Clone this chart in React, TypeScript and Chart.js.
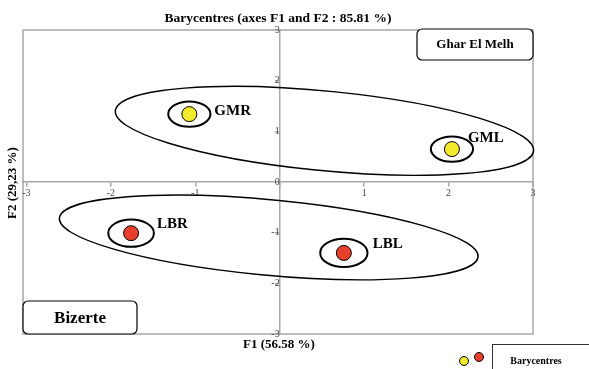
import React, { useEffect, useRef } from 'react';
import { Chart, registerables } from 'chart.js';
Chart.register(...registerables);

// ---- data ----
const categories = ['GMR', 'GML', 'LBR', 'LBL'];
const f1Values = [-1.07, 2.04, -1.76, 0.76];
const f2Values = [1.34, 0.65, -1.01, -1.4];
const pointColors = ['#f2ea2c', '#f2ea2c', '#e8402c', '#e8402c'];
const confRadius = [0.25, 0.25, 0.27, 0.28];
const labelDx = [25, 16, 26, 29];
const labelDy = [1, -7, -5, -5];

const regionNames = ['Ghar El Melh', 'Bizerte'];
const regionCenterF1 = [0.53, -0.13];
const regionCenterF2 = [1.01, -1.095];
const regionSemiMajor = [2.51, 2.51];
const regionSemiMinor = [0.78, 0.74];
const regionAngleDeg = [-9.7, -9.3];

const tickValues = [-3, -2, -1, 0, 1, 2, 3];
const titleText = 'Barycentres (axes F1 and F2 : 85.81 %)';
const xTitle = 'F1 (56.58 %)';
const yTitle = 'F2 (29,23 %)';
const legendLabel = 'Barycentres';

const SERIF = '"Liberation Serif", "Times New Roman", serif';
const AXIS_GRAY = '#a8a8a8';

function ellipsePath(ctx: CanvasRenderingContext2D, chart: any, cx: number, cy: number, a: number, b: number, angDeg: number) {
  const xs = chart.scales.x;
  const ys = chart.scales.y;
  const px = xs.getPixelForValue(cx);
  const py = ys.getPixelForValue(cy);
  const sx = xs.getPixelForValue(1) - xs.getPixelForValue(0);
  const sy = ys.getPixelForValue(0) - ys.getPixelForValue(1);
  ctx.save();
  ctx.beginPath();
  ctx.translate(px, py);
  ctx.scale(sx, -sy);
  ctx.rotate((angDeg * Math.PI) / 180);
  ctx.ellipse(0, 0, a, b, 0, 0, Math.PI * 2);
  ctx.restore();
}

const framePlugin = {
  id: 'frame',
  beforeDraw(chart: any) {
    const { ctx, chartArea: ca } = chart;
    ctx.save();
    ctx.fillStyle = '#fff';
    ctx.fillRect(0, 0, chart.width, chart.height);
    ctx.strokeStyle = AXIS_GRAY;
    ctx.lineWidth = 1.5;
    ctx.strokeRect(ca.left, ca.top, ca.right - ca.left, ca.bottom - ca.top);
    ctx.restore();
  },
  beforeDatasetsDraw(chart: any) {
    const { ctx } = chart;
    ctx.save();
    ctx.strokeStyle = '#000';
    ctx.lineWidth = 1.4;
    for (let g = 0; g < regionNames.length; g++) {
      ellipsePath(ctx, chart, regionCenterF1[g], regionCenterF2[g], regionSemiMajor[g], regionSemiMinor[g], regionAngleDeg[g]);
      ctx.stroke();
    }
    ctx.lineWidth = 2;
    for (let i = 0; i < categories.length; i++) {
      ellipsePath(ctx, chart, f1Values[i], f2Values[i], confRadius[i], confRadius[i], 0);
      ctx.stroke();
    }
    ctx.restore();
  },
  afterDraw(chart: any) {
    const { ctx, chartArea: ca } = chart;
    const xs = chart.scales.x;
    const ys = chart.scales.y;
    ctx.save();
    ctx.fillStyle = '#000';
    ctx.textBaseline = 'alphabetic';
    ctx.font = `bold 15px ${SERIF}`;
    ctx.textAlign = 'left';
    for (let i = 0; i < categories.length; i++) {
      const px = xs.getPixelForValue(f1Values[i]);
      const py = ys.getPixelForValue(f2Values[i]);
      ctx.fillText(categories[i], px + labelDx[i], py + labelDy[i]);
    }
    const cx = (ca.left + ca.right) / 2;
    ctx.textAlign = 'center';
    ctx.textBaseline = 'middle';
    ctx.font = `bold 13.5px ${SERIF}`;
    ctx.fillText(titleText, cx, 19);
    ctx.font = `bold 13px ${SERIF}`;
    ctx.fillText(xTitle, cx + 1, ca.bottom + 11);
    ctx.save();
    ctx.translate(13, ys.getPixelForValue(0) + 1);
    ctx.rotate(-Math.PI / 2);
    ctx.fillText(yTitle, 0, 0);
    ctx.restore();

    ctx.lineWidth = 1.2;
    ctx.strokeStyle = '#000';
    const gw = 116, gh = 31;
    ctx.fillStyle = '#fff';
    ctx.beginPath();
    ctx.roundRect(ca.right - gw, ca.top - 1, gw, gh, 5);
    ctx.fill();
    ctx.stroke();
    ctx.fillStyle = '#000';
    ctx.font = `bold 13px ${SERIF}`;
    ctx.fillText(regionNames[0], ca.right - gw / 2, ca.top - 1 + gh / 2);
    const bw = 114, bh = 33;
    ctx.fillStyle = '#fff';
    ctx.beginPath();
    ctx.roundRect(ca.left, ca.bottom - bh, bw, bh, 5);
    ctx.fill();
    ctx.stroke();
    ctx.fillStyle = '#000';
    ctx.font = `bold 17px ${SERIF}`;
    ctx.fillText(regionNames[1], ca.left + bw / 2, ca.bottom - bh / 2 + 1);

    const ly = ca.bottom + 10;
    ctx.lineWidth = 1;
    ctx.strokeStyle = '#000';
    ctx.beginPath();
    ctx.arc(464, ly + 17, 4.5, 0, Math.PI * 2);
    ctx.fillStyle = pointColors[0];
    ctx.fill();
    ctx.stroke();
    ctx.beginPath();
    ctx.arc(479, ly + 13, 4.5, 0, Math.PI * 2);
    ctx.fillStyle = pointColors[2];
    ctx.fill();
    ctx.stroke();
    ctx.strokeStyle = '#333';
    ctx.strokeRect(492.5, ly + 0.5, 120, 40);
    ctx.fillStyle = '#000';
    ctx.font = `bold 10px ${SERIF}`;
    ctx.fillText(legendLabel, 536, ly + 17);
    ctx.restore();
  },
};

export default function App() {
  const ref = useRef<HTMLCanvasElement | null>(null);
  useEffect(() => {
    document.body.style.margin = '0';
    const canvas = ref.current;
    if (!canvas) return;
    const tickFont = { family: SERIF, size: 10 };
    const chart = new Chart(canvas, {
      type: 'scatter',
      data: {
        datasets: [
          {
            label: legendLabel,
            data: categories.map((c, i) => ({ x: f1Values[i], y: f2Values[i] })),
            pointRadius: 7.5,
            pointHoverRadius: 7.5,
            pointBackgroundColor: pointColors,
            pointBorderColor: '#000',
            pointBorderWidth: 1,
            clip: false,
          } as any,
        ],
      },
      options: {
        animation: false,
        responsive: false,
        devicePixelRatio: 1,
        events: [],
        layout: { padding: { left: 23, right: 56, top: 30, bottom: 35 } },
        plugins: { legend: { display: false }, tooltip: { enabled: false }, title: { display: false } },
        scales: {
          x: {
            type: 'linear',
            position: { y: 0 } as any,
            min: -3.04,
            max: 3,
            afterBuildTicks: (s: any) => {
              s.ticks = tickValues.map((v) => ({ value: v }));
            },
            grid: { drawOnChartArea: false, drawTicks: true, tickLength: 4, color: AXIS_GRAY, lineWidth: 1.5 },
            border: { display: true, color: AXIS_GRAY, width: 1.5 },
            ticks: {
              font: tickFont,
              color: '#444',
              padding: 1,
              maxRotation: 0,
              autoSkip: false,
              callback: (v: any) => (v === 0 ? '' : String(v)),
            },
          },
          y: {
            type: 'linear',
            position: { x: 0 } as any,
            min: -3,
            max: 3,
            afterBuildTicks: (s: any) => {
              s.ticks = tickValues.map((v) => ({ value: v }));
            },
            grid: { drawOnChartArea: false, drawTicks: true, tickLength: 4, color: AXIS_GRAY, lineWidth: 1.5 },
            border: { display: true, color: AXIS_GRAY, width: 1.5 },
            ticks: {
              font: tickFont,
              color: '#444',
              padding: 1,
              autoSkip: false,
              callback: (v: any) => String(v),
            },
          },
        },
      },
      plugins: [framePlugin],
    });
    return () => chart.destroy();
  }, []);
  return (
    <div style={{ width: 589, height: 369 }}>
      <canvas ref={ref} width={589} height={369} style={{ display: 'block', width: 589, height: 369 }} />
    </div>
  );
}
